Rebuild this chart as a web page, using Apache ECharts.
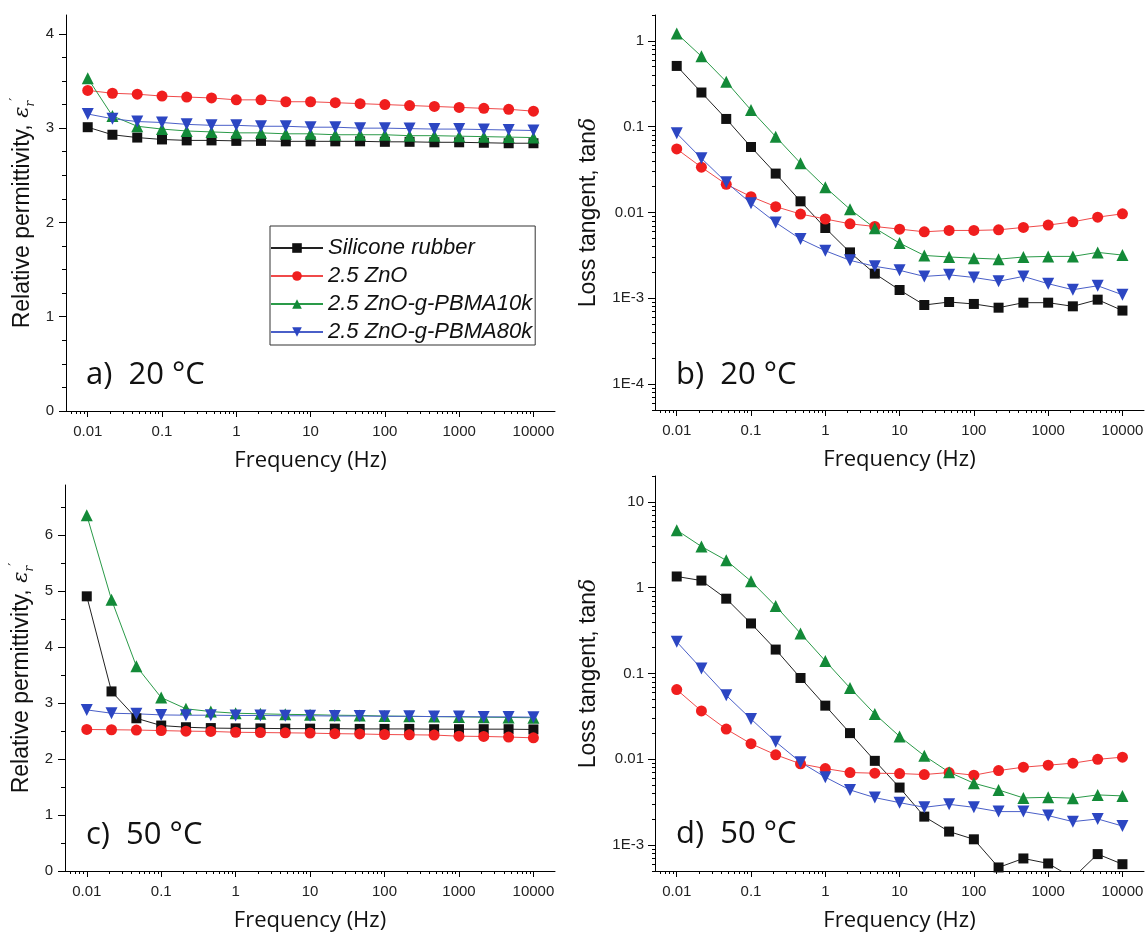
<!DOCTYPE html>
<html><head><meta charset="utf-8">
<script src="https://cdn.jsdelivr.net/npm/echarts@6/dist/echarts.min.js"></script>
<style>html,body{margin:0;padding:0;background:#fff}#c{width:1148px;height:934px}</style>
</head><body><div id="c"></div>
<script>
// ---------- data ----------
const freq = [0.01, 0.0215, 0.0464, 0.1, 0.215, 0.464, 1, 2.15, 4.64, 10, 21.5, 46.4, 100, 215, 464, 1000, 2150, 4640, 10000];
const seriesNames = ['Silicone rubber', '2.5 ZnO', '2.5 ZnO-g-PBMA10k', '2.5 ZnO-g-PBMA80k'];

// a) relative permittivity, 20 °C
const epsA_silicone = [3.01, 2.93, 2.90, 2.88, 2.87, 2.87, 2.865, 2.865, 2.86, 2.86, 2.86, 2.86, 2.855, 2.855, 2.85, 2.85, 2.845, 2.84, 2.84];
const epsA_zno      = [3.40, 3.37, 3.36, 3.34, 3.33, 3.32, 3.30, 3.30, 3.28, 3.28, 3.27, 3.26, 3.25, 3.24, 3.23, 3.22, 3.21, 3.20, 3.18];
const epsA_pbma10k  = [3.53, 3.13, 3.02, 2.99, 2.97, 2.96, 2.95, 2.95, 2.94, 2.94, 2.93, 2.93, 2.93, 2.92, 2.92, 2.915, 2.91, 2.905, 2.90];
const epsA_pbma80k  = [3.15, 3.10, 3.07, 3.06, 3.04, 3.03, 3.03, 3.02, 3.02, 3.01, 3.01, 3.00, 3.00, 2.995, 2.99, 2.99, 2.985, 2.98, 2.975];

// b) loss tangent, 20 °C
const tanB_silicone = [0.51, 0.25, 0.123, 0.058, 0.0284, 0.0135, 0.0066, 0.00343, 0.00194, 0.00125, 0.000836, 0.000906, 0.00086, 0.000778, 0.00089, 0.00089, 0.000807, 0.000965, 0.00072];
const tanB_zno      = [0.055, 0.0337, 0.0213, 0.0153, 0.0117, 0.0096, 0.0084, 0.00738, 0.00687, 0.0064, 0.00596, 0.00618, 0.00618, 0.00628, 0.0067, 0.00713, 0.00779, 0.00883, 0.00965];
const tanB_pbma10k  = [1.22, 0.66, 0.334, 0.156, 0.0765, 0.0375, 0.0197, 0.0109, 0.00657, 0.0044, 0.00316, 0.00303, 0.00294, 0.00286, 0.00303, 0.00308, 0.00308, 0.00343, 0.00319];
const tanB_pbma80k  = [0.0836, 0.0428, 0.0225, 0.0128, 0.00765, 0.0049, 0.00358, 0.00277, 0.00236, 0.00212, 0.0018, 0.00188, 0.00175, 0.00158, 0.0018, 0.00148, 0.00126, 0.0014, 0.0011];

// c) relative permittivity, 50 °C
const epsC_silicone = [4.91, 3.21, 2.73, 2.60, 2.57, 2.555, 2.55, 2.55, 2.545, 2.545, 2.545, 2.54, 2.54, 2.54, 2.535, 2.535, 2.535, 2.535, 2.53];
const epsC_zno      = [2.53, 2.525, 2.52, 2.51, 2.50, 2.495, 2.48, 2.475, 2.47, 2.465, 2.455, 2.45, 2.44, 2.435, 2.43, 2.41, 2.405, 2.395, 2.38];
const epsC_pbma10k  = [6.36, 4.85, 3.66, 3.10, 2.90, 2.85, 2.82, 2.81, 2.80, 2.795, 2.785, 2.78, 2.77, 2.765, 2.76, 2.755, 2.75, 2.745, 2.74];
const epsC_pbma80k  = [2.88, 2.82, 2.81, 2.79, 2.785, 2.785, 2.78, 2.78, 2.775, 2.775, 2.77, 2.77, 2.765, 2.765, 2.76, 2.76, 2.755, 2.755, 2.75];

// d) loss tangent, 50 °C
const tanD_silicone = [1.35, 1.21, 0.744, 0.383, 0.19, 0.0887, 0.0422, 0.0202, 0.0096, 0.00469, 0.00215, 0.00144, 0.00117, 0.00055, 0.0007, 0.000612, 0.000415, 0.000787, 0.0006];
const tanD_zno      = [0.0649, 0.0366, 0.0225, 0.0152, 0.0113, 0.00886, 0.00781, 0.00702, 0.00689, 0.00683, 0.00665, 0.00702, 0.00653, 0.0074, 0.0081, 0.00855, 0.00902, 0.0100, 0.0106];
const tanD_pbma10k  = [4.68, 3.02, 2.08, 1.19, 0.61, 0.293, 0.14, 0.0678, 0.0337, 0.0185, 0.011, 0.00708, 0.00527, 0.0044, 0.00355, 0.00361, 0.00353, 0.00385, 0.00375];
const tanD_pbma80k  = [0.234, 0.114, 0.0557, 0.0295, 0.016, 0.00927, 0.0062, 0.0044, 0.00358, 0.00313, 0.00276, 0.00299, 0.00276, 0.00246, 0.00246, 0.00221, 0.00188, 0.00202, 0.00167];

// ticks / labels
const xTicks = [0.01, 0.1, 1, 10, 100, 1000, 10000];
const xTickLabels = ['0.01', '0.1', '1', '10', '100', '1000', '10000'];
const decades = [0.00001, 0.0001, 0.001, 0.01, 0.1, 1, 10, 100, 1000, 10000];
const minorMult = [2, 3, 4, 5, 6, 7, 8, 9];
const yTicksA = [0, 1, 2, 3, 4];
const yTicksC = [0, 1, 2, 3, 4, 5, 6];
const yTicksB = [0.0001, 0.001, 0.01, 0.1, 1];
const yTickLabelsB = ['1E-4', '1E-3', '0.01', '0.1', '1'];
const yTicksD = [0.001, 0.01, 0.1, 1, 10];
const yTickLabelsD = ['1E-3', '0.01', '0.1', '1', '10'];
const panelTexts = ['a)  20 °C', 'b)  20 °C', 'c)  50 °C', 'd)  50 °C'];

// ---------- styling ----------
const colors = ['#111111', '#f01e1e', '#138a38', '#2c46c2'];
const lineColors = ['#222222', '#f04a4a', '#2a9a48', '#4a5fc8'];
const symbols = ['rect', 'circle', 'triangle', 'triangle'];
const symSizes = [10, 11, 12, 12];
const symRot = [0, 0, 0, 180];
const TICK_FONT = 'Liberation Sans';

const X_MIN = 0.0051, X_MAX = 19500;
const panels = [
  { grid: {left: 66, top: 15, width: 489, height: 396}, log: false, ymin: 0, ymax: 4.2, ticks: yTicksA, minorStep: 0.25, kind: 'eps',
    data: [epsA_silicone, epsA_zno, epsA_pbma10k, epsA_pbma80k] },
  { grid: {left: 655, top: 15, width: 489, height: 395}, log: true, ymin: 0.00005, ymax: 2, ticks: yTicksB, labels: yTickLabelsB, kind: 'tan',
    data: [tanB_silicone, tanB_zno, tanB_pbma10k, tanB_pbma80k] },
  { grid: {left: 65, top: 485, width: 490, height: 386}, log: false, ymin: 0, ymax: 6.9, ticks: yTicksC, minorStep: 0.5, kind: 'eps',
    data: [epsC_silicone, epsC_zno, epsC_pbma10k, epsC_pbma80k] },
  { grid: {left: 655, top: 476, width: 489, height: 395}, log: true, ymin: 0.0005, ymax: 20, ticks: yTicksD, labels: yTickLabelsD, kind: 'tan',
    data: [tanD_silicone, tanD_zno, tanD_pbma10k, tanD_pbma80k] }
];
const textPos = [[86, 360], [676, 360], [86, 820], [676, 819]];

function logMinor(lo, hi) {
  const out = [];
  decades.forEach(d => minorMult.forEach(m => { const v = d * m; if (v >= lo && v <= hi * 1.0000001) out.push(Math.log10(v)); }));
  return out;
}
function linMinor(lo, hi, step, majors) {
  const out = [];
  for (let i = 0; lo + i * step <= hi + 1e-9; i++) {
    const v = +(lo + i * step).toFixed(6);
    if (majors.indexOf(v) < 0) out.push(v);
  }
  return out;
}
function lookupFmt(ticks, labels) {
  return v => { const i = ticks.findIndex(t => Math.abs(Math.log10(t) - v) < 1e-6); return i >= 0 ? labels[i] : ''; };
}

const labelStyle = {fontFamily: TICK_FONT, fontSize: 15, color: '#222'};
const xAxes = [], yAxes = [], series = [], grids = [];
const epsName = {
  name: '{n|Relative permittivity, }{e|ε}{s|r}{p|′}',
  style: {color: '#111', rich: {
    n: {fontFamily: 'Liberation Sans', fontSize: 23, lineHeight: 28, color: '#111'},
    e: {fontFamily: 'DejaVu Serif', fontStyle: 'italic', fontSize: 21, lineHeight: 28, color: '#111'},
    s: {fontFamily: 'DejaVu Serif', fontStyle: 'italic', fontSize: 12, lineHeight: 12, verticalAlign: 'bottom', color: '#111'},
    p: {fontFamily: 'DejaVu Serif', fontSize: 14, lineHeight: 14, verticalAlign: 'top', color: '#111'}
  }}
};
const tanName = {
  name: '{n|Loss tangent, tan}{d|δ}',
  style: {color: '#111', rich: {
    n: {fontFamily: 'Liberation Sans', fontSize: 23, lineHeight: 26, color: '#111'},
    d: {fontFamily: 'DejaVu Serif', fontStyle: 'italic', fontSize: 22, lineHeight: 26, color: '#111'}
  }}
};

const xMajorPos = xTicks.map(t => Math.log10(t));
const xMinorPos = logMinor(X_MIN, X_MAX);
const lxMin = Math.log10(X_MIN), lxMax = Math.log10(X_MAX);

panels.forEach((p, pi) => {
  grids.push(Object.assign({containLabel: false}, p.grid));
  const base = xAxes.length;
  // data x axis (log scale, hidden) - all marks are drawn through it
  xAxes.push({type: 'log', logBase: 10, gridIndex: pi, position: 'bottom', min: X_MIN, max: X_MAX, show: false});
  // visible major x axis (decade positions)
  xAxes.push({type: 'value', gridIndex: pi, position: 'bottom', min: lxMin, max: lxMax,
    axisLine: {show: true, onZero: false, lineStyle: {color: '#000', width: 1}},
    axisTick: {show: true, customValues: xMajorPos, length: 6, lineStyle: {color: '#000', width: 1}},
    axisLabel: Object.assign({customValues: xMajorPos, margin: 13, formatter: lookupFmt(xTicks, xTickLabels)}, labelStyle),
    splitLine: {show: false},
    name: 'Frequency (Hz)', nameLocation: 'middle', nameGap: 39,
    nameTextStyle: {fontFamily: 'Open Sans', fontSize: 22, color: '#111'}});
  // minor x ticks
  xAxes.push({type: 'value', gridIndex: pi, position: 'bottom', min: lxMin, max: lxMax,
    axisLine: {show: false, onZero: false},
    axisTick: {show: true, customValues: xMinorPos, length: 3, lineStyle: {color: '#000', width: 1}},
    axisLabel: {show: false}, splitLine: {show: false}});

  const nm = p.kind === 'eps' ? epsName : tanName;
  const nameGap = p.kind === 'eps' ? 29 : 53;
  if (p.log) {
    const lyMin = Math.log10(p.ymin), lyMax = Math.log10(p.ymax);
    const maj = p.ticks.map(t => Math.log10(t));
    yAxes.push({type: 'log', logBase: 10, gridIndex: pi, position: 'left', min: p.ymin, max: p.ymax, show: false});
    yAxes.push({type: 'value', gridIndex: pi, position: 'left', min: lyMin, max: lyMax,
      axisLine: {show: true, onZero: false, lineStyle: {color: '#000', width: 1}},
      axisTick: {show: true, customValues: maj, length: 7, lineStyle: {color: '#000', width: 1}},
      axisLabel: Object.assign({customValues: maj, margin: 11, formatter: lookupFmt(p.ticks, p.labels)}, labelStyle),
      splitLine: {show: false},
      name: nm.name, nameLocation: 'middle', nameGap: nameGap, nameTextStyle: nm.style});
    yAxes.push({type: 'value', gridIndex: pi, position: 'left', min: lyMin, max: lyMax,
      axisLine: {show: false, onZero: false},
      axisTick: {show: true, customValues: logMinor(p.ymin, p.ymax), length: 3, lineStyle: {color: '#000', width: 1}},
      axisLabel: {show: false}, splitLine: {show: false}});
  } else {
    yAxes.push({type: 'value', gridIndex: pi, position: 'left', min: p.ymin, max: p.ymax, show: false});
    yAxes.push({type: 'value', gridIndex: pi, position: 'left', min: p.ymin, max: p.ymax,
      axisLine: {show: true, onZero: false, lineStyle: {color: '#000', width: 1}},
      axisTick: {show: true, customValues: p.ticks, length: 7, lineStyle: {color: '#000', width: 1}},
      axisLabel: Object.assign({customValues: p.ticks, margin: 12}, labelStyle),
      splitLine: {show: false},
      name: nm.name, nameLocation: 'middle', nameGap: nameGap, nameTextStyle: nm.style});
    yAxes.push({type: 'value', gridIndex: pi, position: 'left', min: p.ymin, max: p.ymax,
      axisLine: {show: false, onZero: false},
      axisTick: {show: true, customValues: linMinor(p.ymin, p.ymax, p.minorStep, p.ticks), length: 4, lineStyle: {color: '#000', width: 1}},
      axisLabel: {show: false}, splitLine: {show: false}});
  }

  p.data.forEach((vals, si) => {
    series.push({
      type: 'line', name: seriesNames[si], xAxisIndex: base, yAxisIndex: base,
      data: freq.map((f, i) => [f, vals[i]]),
      symbol: symbols[si], symbolSize: symSizes[si], symbolRotate: symRot[si],
      showSymbol: true, clip: true,
      lineStyle: {color: lineColors[si], width: 1},
      itemStyle: {color: colors[si]},
      emphasis: {disabled: true}
    });
  });
});

const graphics = panelTexts.map((t, i) => ({
  type: 'text', left: textPos[i][0], top: textPos[i][1], z: 10,
  style: {text: t, font: '31px "Open Sans"', fill: '#111'}
}));

const chart = echarts.init(document.getElementById('c'), null, {renderer: 'canvas'});
chart.setOption({
  animation: false,
  backgroundColor: '#fff',
  grid: grids,
  xAxis: xAxes,
  yAxis: yAxes,
  legend: {
    data: seriesNames, orient: 'vertical', left: 270, top: 226,
    padding: [11, 3, 2, 0], itemGap: 6, itemWidth: 52, itemHeight: 12,
    borderColor: '#333', borderWidth: 1, backgroundColor: '#fff', selectedMode: false,
    textStyle: {fontFamily: 'Liberation Sans', fontStyle: 'italic', fontSize: 22, lineHeight: 22, color: '#111'}
  },
  graphic: graphics,
  series: series
});
</script>
</body></html>
